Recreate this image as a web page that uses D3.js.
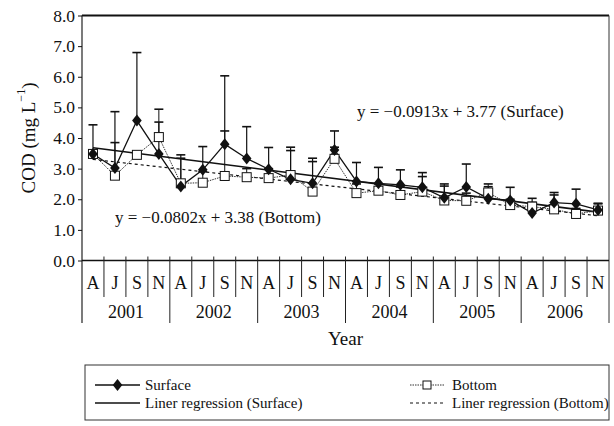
<!DOCTYPE html>
<html>
<head>
<meta charset="utf-8">
<title>COD surface vs bottom</title>
<script src="https://d3js.org/d3.v7.min.js"></script>
<style>
  body { margin: 0; background: #fff; }
  svg text { font-family: "Liberation Serif", "DejaVu Serif", serif !important; fill: #111; }
</style>
</head>
<body>
<svg id="chart" width="614" height="426"></svg>
<script>
// data (COD, mg/L), 4 samplings a year
var years = ["2001", "2002", "2003", "2004", "2005", "2006"];
var months = ["A", "J", "S", "N"];

var surface    = [3.48, 3.02, 4.57, 3.48, 2.42, 2.96, 3.80, 3.33, 2.98, 2.65, 2.52, 3.61,
                  2.58, 2.52, 2.47, 2.39, 2.05, 2.40, 2.02, 1.96, 1.55, 1.89, 1.85, 1.65];
var surfaceTop = [4.43, 4.86, 6.79, 4.52, 3.45, 3.72, 6.03, 4.37, 3.69, 3.70, 3.34, 4.23,
                  3.20, 3.04, 2.96, 2.87, 2.50, 3.15, 2.41, 2.39, 2.03, 2.22, 2.33, 1.87];
var bottom     = [3.48, 2.77, 3.45, 4.03, 2.52, 2.54, 2.76, 2.72, 2.69, 2.79, 2.25, 3.32,
                  2.20, 2.28, 2.14, 2.25, 1.96, 1.95, 2.22, 1.81, 1.76, 1.67, 1.52, 1.63];
var bottomTop  = [3.60, 3.85, 3.55, 4.94, 3.34, 2.90, 4.23, 3.00, 3.00, 3.59, 3.23, 3.70,
                  2.50, 2.50, 2.40, 2.74, 2.43, 2.20, 2.50, 2.00, 1.90, 2.14, 1.70, 1.85];

// regression lines, values at first and last sampling
var fitSurface = [3.68, 1.58];
var fitBottom  = [3.30, 1.46];

var yTicks = [0, 1, 2, 3, 4, 5, 6, 7, 8];

var svg = d3.select("#chart");

var pLeft = 82, pRight = 609, pTop = 15.5, pBase = 260.5;
var keys = [];
years.forEach(function(yr) { months.forEach(function(m) { keys.push(yr + m); }); });

var x = d3.scaleBand().domain(keys).range([pLeft, pRight]).paddingInner(0).paddingOuter(0);
var y = d3.scaleLinear().domain([0, 8]).range([pBase, pTop]);
var cx = function(i) { return x(keys[i]) + x.bandwidth() / 2; };

// frame
svg.append("line").attr("x1", pLeft).attr("x2", pRight).attr("y1", pTop).attr("y2", pTop)
  .attr("stroke", "#111").attr("stroke-width", 2);
svg.append("line").attr("x1", pRight).attr("x2", pRight).attr("y1", pTop).attr("y2", 323)
  .attr("stroke", "#333").attr("stroke-width", 1);
svg.append("line").attr("x1", pLeft).attr("x2", pLeft).attr("y1", pTop).attr("y2", 323)
  .attr("stroke", "#222").attr("stroke-width", 1.2);
svg.append("line").attr("x1", pLeft).attr("x2", pRight).attr("y1", pBase).attr("y2", pBase)
  .attr("stroke", "#111").attr("stroke-width", 1.6);

// y axis
var yAxis = svg.append("g").attr("transform", "translate(" + pLeft + ",0)")
  .call(d3.axisLeft(y).tickValues(yTicks).tickFormat(d3.format(".1f")).tickSize(4).tickPadding(3));
yAxis.attr("font-family", null);
yAxis.select(".domain").remove();
yAxis.selectAll("text").style("font-size", "17.5px");
yAxis.selectAll("line").attr("stroke", "#111");

var ylab = svg.append("text")
  .attr("transform", "translate(28,138) rotate(-90)")
  .attr("text-anchor", "middle").attr("dominant-baseline", "central")
  .style("font-size", "19px");
ylab.append("tspan").text("COD (mg L");
ylab.append("tspan").attr("baseline-shift", "super").style("font-size", "12px").text("\u22121");
ylab.append("tspan").text(")");

// x category table
keys.forEach(function(k, i) {
  var xl = x(k);
  var yearEdge = i % 4 === 0;
  if (i > 0) {
    svg.append("line").attr("x1", xl).attr("x2", xl)
      .attr("y1", pBase - 4).attr("y2", yearEdge ? 323 : 297)
      .attr("stroke", "#222").attr("stroke-width", 1);
  }
  svg.append("text").attr("x", cx(i)).attr("y", 283)
    .attr("text-anchor", "middle").attr("dominant-baseline", "central")
    .style("font-size", "18px").text(months[i % 4]);
});
years.forEach(function(yr) {
  var x0 = x(yr + "A"), x1 = x(yr + "N") + x.bandwidth();
  svg.append("text").attr("x", (x0 + x1) / 2).attr("y", 312)
    .attr("text-anchor", "middle").attr("dominant-baseline", "central")
    .style("font-size", "18px").text(yr);
});
svg.append("text").attr("x", (pLeft + pRight) / 2).attr("y", 338)
  .attr("text-anchor", "middle").attr("dominant-baseline", "central")
  .style("font-size", "19px").text("Year");

// regression lines
svg.append("line").attr("x1", cx(0)).attr("x2", cx(23))
  .attr("y1", y(fitSurface[0])).attr("y2", y(fitSurface[1]))
  .attr("stroke", "#111").attr("stroke-width", 1.6);
svg.append("line").attr("x1", cx(0)).attr("x2", cx(23))
  .attr("y1", y(fitBottom[0])).attr("y2", y(fitBottom[1]))
  .attr("stroke", "#111").attr("stroke-width", 1.2).attr("stroke-dasharray", "3,3");

// error bars
function errBars(vals, tops, w) {
  vals.forEach(function(v, i) {
    if (tops[i] <= v) return;
    svg.append("line").attr("x1", cx(i)).attr("x2", cx(i))
      .attr("y1", y(v)).attr("y2", y(tops[i])).attr("stroke", "#111").attr("stroke-width", w);
    svg.append("line").attr("x1", cx(i) - 4.5).attr("x2", cx(i) + 4.5)
      .attr("y1", y(tops[i])).attr("y2", y(tops[i])).attr("stroke", "#111").attr("stroke-width", 1.6);
  });
}
errBars(bottom, bottomTop, 1);
errBars(surface, surfaceTop, 1.2);

// series lines
var line = d3.line().x(function(d, i) { return cx(i); }).y(function(d) { return y(d); });
svg.append("path").datum(bottom).attr("d", line).attr("fill", "none")
  .attr("stroke", "#333").attr("stroke-width", 1).attr("stroke-dasharray", "1.5,1");
svg.append("path").datum(surface).attr("d", line).attr("fill", "none")
  .attr("stroke", "#111").attr("stroke-width", 1.3);

var diamond = "M0,-6L4.8,0L0,6L-4.8,0Z";
svg.selectAll(".sq").data(bottom).enter().append("rect")
  .attr("x", function(d, i) { return cx(i) - 4.5; }).attr("y", function(d) { return y(d) - 4.5; })
  .attr("width", 9).attr("height", 9).attr("fill", "#fff").attr("stroke", "#111").attr("stroke-width", 1);
svg.selectAll(".dm").data(surface).enter().append("path")
  .attr("d", diamond).attr("fill", "#111")
  .attr("transform", function(d, i) { return "translate(" + cx(i) + "," + y(d) + ")"; });

// equations
svg.append("text").attr("x", 357).attr("y", 117).style("font-size", "17px")
  .text("y = \u22120.0913x + 3.77 (Surface)");
svg.append("text").attr("x", 115).attr("y", 223).style("font-size", "17px")
  .text("y = \u22120.0802x + 3.38 (Bottom)");

// legend
var lg = svg.append("g");
lg.append("rect").attr("x", 85).attr("y", 365).attr("width", pRight - 85).attr("height", 55)
  .attr("fill", "none").attr("stroke", "#333").attr("stroke-width", 1);
var rows = [385, 403];
lg.append("line").attr("x1", 95).attr("x2", 140).attr("y1", rows[0]).attr("y2", rows[0])
  .attr("stroke", "#111").attr("stroke-width", 1.3);
lg.append("path").attr("d", diamond).attr("fill", "#111").attr("transform", "translate(117.5," + rows[0] + ")");
lg.append("line").attr("x1", 95).attr("x2", 140).attr("y1", rows[1]).attr("y2", rows[1])
  .attr("stroke", "#111").attr("stroke-width", 1.6);
lg.append("line").attr("x1", 410).attr("x2", 445).attr("y1", rows[0]).attr("y2", rows[0])
  .attr("stroke", "#333").attr("stroke-width", 1).attr("stroke-dasharray", "1.5,1");
lg.append("rect").attr("x", 423).attr("y", rows[0] - 4).attr("width", 8).attr("height", 8)
  .attr("fill", "#fff").attr("stroke", "#111");
lg.append("line").attr("x1", 410).attr("x2", 445).attr("y1", rows[1]).attr("y2", rows[1])
  .attr("stroke", "#111").attr("stroke-width", 1.2).attr("stroke-dasharray", "3,3");
var labels = [["Surface", 145, rows[0]], ["Liner regression (Surface)", 145, rows[1]],
              ["Bottom", 452, rows[0]], ["Liner regression (Bottom)", 452, rows[1]]];
labels.forEach(function(l) {
  lg.append("text").attr("x", l[1]).attr("y", l[2]).attr("dominant-baseline", "central")
    .style("font-size", "15px").text(l[0]);
});
</script>
</body>
</html>
